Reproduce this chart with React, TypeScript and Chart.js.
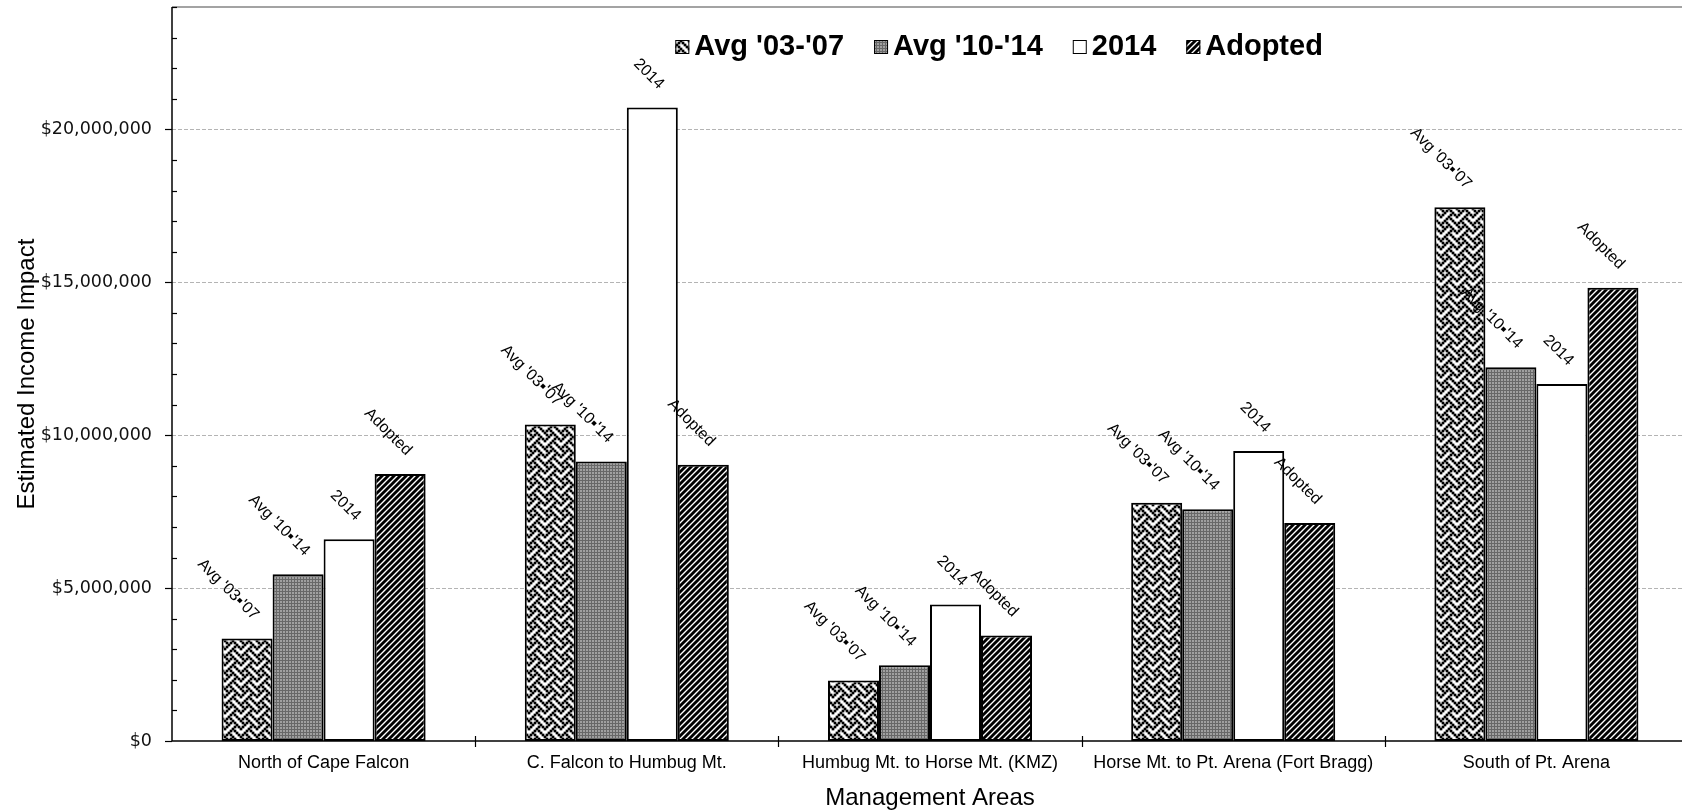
import React, { useEffect, useRef } from "react";
import { Chart, registerables } from "chart.js";

Chart.register(...registerables);

const categories = [
  "North of Cape Falcon",
  "C. Falcon to Humbug Mt.",
  "Humbug Mt. to Horse Mt. (KMZ)",
  "Horse Mt. to Pt. Arena (Fort Bragg)",
  "South of Pt. Arena",
];

const seriesNames = ["Avg '03-'07", "Avg '10-'14", "2014", "Adopted"];
// the labels above the bars print the separator as a small square
const barLabels = ["Avg '03\u25AA'07", "Avg '10\u25AA'14", "2014", "Adopted"];

const avg03to07 = [3350000, 10350000, 1980000, 7790000, 17450000];
const avg10to14 = [5450000, 9140000, 2480000, 7580000, 12220000];
const season2014 = [6600000, 20710000, 4460000, 9480000, 11670000];
const adopted = [8730000, 9030000, 3450000, 7130000, 14820000];

const yMin = 0;
const yMax = 24000000;
const yMinorStep = 1000000;
const yMajorStep = 5000000;

const SANS = '"Liberation Sans", Arial, Helvetica, sans-serif';
const WIDE = '"DejaVu Sans", Verdana, sans-serif';

function makeTile(w: number, h: number, draw: (g: CanvasRenderingContext2D) => void) {
  const c = document.createElement("canvas");
  c.width = w;
  c.height = h;
  const g = c.getContext("2d")!;
  draw(g);
  return c;
}

// woven fill: 8x8 bitmap on a 2px grid, each dot drawn a little fatter
function weaveTile() {
  const rows = [0x88, 0x54, 0x22, 0x45, 0x88, 0x14, 0x22, 0x51];
  const s = 2;
  const n = 8 * s;
  const dot = 2.7;
  return makeTile(n, n, (g) => {
    g.fillStyle = "#ffffff";
    g.fillRect(0, 0, n, n);
    g.fillStyle = "#000000";
    rows.forEach((bits, r) => {
      for (let col = 0; col < 8; col++) {
        if (!(bits & (0x80 >> col))) continue;
        for (const ox of [-n, 0, n]) {
          for (const oy of [-n, 0, n]) {
            g.fillRect(col * s - (dot - s) / 2 + ox, r * s - (dot - s) / 2 + oy, dot, dot);
          }
        }
      }
    });
  });
}

// fine grey grid fill
function gridTile() {
  return makeTile(3, 3, (g) => {
    g.fillStyle = "#a0a0a0";
    g.fillRect(0, 0, 3, 3);
    g.fillStyle = "#686868";
    g.fillRect(0, 0, 3, 1);
    g.fillRect(0, 0, 1, 3);
  });
}

// forward diagonal stripes
function stripeTile() {
  const s = 6;
  return makeTile(s, s, (g) => {
    g.fillStyle = "#ffffff";
    g.fillRect(0, 0, s, s);
    g.strokeStyle = "#000000";
    g.lineWidth = 2.9;
    g.beginPath();
    g.moveTo(-s / 2, s / 2);
    g.lineTo(s / 2, -s / 2);
    g.moveTo(0, s);
    g.lineTo(s, 0);
    g.moveTo(s / 2, s * 1.5);
    g.lineTo(s * 1.5, s / 2);
    g.stroke();
  });
}

function seg(ctx: CanvasRenderingContext2D, x1: number, y1: number, x2: number, y2: number) {
  ctx.beginPath();
  ctx.moveTo(x1, y1);
  ctx.lineTo(x2, y2);
  ctx.stroke();
}

const money = (v: number) => "$" + v.toLocaleString("en-US");

const gridPlugin = {
  id: "dashedGrid",
  beforeDatasetsDraw(chart: any) {
    const { ctx, chartArea: a, scales } = chart;
    const y = scales.y;
    ctx.save();
    ctx.strokeStyle = "#b4b4b4";
    ctx.lineWidth = 1;
    ctx.setLineDash([4, 2]);
    for (let v = yMin + yMajorStep; v <= yMax; v += yMajorStep) {
      const py = Math.round(y.getPixelForValue(v)) + 0.5;
      seg(ctx, a.left, py, a.right, py);
    }
    ctx.restore();
  },
};

const framePlugin = {
  id: "axisFrame",
  afterDatasetsDraw(chart: any) {
    const { ctx, chartArea: a, scales } = chart;
    const x = scales.x;
    const y = scales.y;
    ctx.save();
    ctx.lineWidth = 1.5;
    ctx.strokeStyle = "#858585";
    seg(ctx, a.left, a.top, a.right, a.top);
    ctx.strokeStyle = "#000000";
    seg(ctx, a.left, a.top, a.left, a.bottom);
    seg(ctx, a.left, a.bottom, a.right, a.bottom);
    ctx.lineWidth = 1.2;
    for (let v = yMin; v <= yMax; v += yMinorStep) {
      const py = Math.round(y.getPixelForValue(v)) + 0.5;
      if (v % yMajorStep === 0) seg(ctx, a.left - 7, py, a.left, py);
      else seg(ctx, a.left, py, a.left + 5, py);
    }
    for (let i = 0; i < categories.length - 1; i++) {
      const px = Math.round((x.getPixelForValue(i) + x.getPixelForValue(i + 1)) / 2) + 0.5;
      seg(ctx, px, a.bottom - 5, px, a.bottom + 6);
    }

    // value-axis labels at the major steps
    ctx.font = `17.5px ${WIDE}`;
    ctx.fillStyle = "#111111";
    ctx.textAlign = "right";
    ctx.textBaseline = "middle";
    for (let v = yMin; v <= yMax; v += yMajorStep) {
      ctx.fillText(money(v), a.left - 20, y.getPixelForValue(v));
    }
    ctx.restore();
  },
};

const barLabelPlugin = {
  id: "barLabels",
  afterDatasetsDraw(chart: any) {
    const { ctx } = chart;
    ctx.save();
    ctx.font = `16px ${SANS}`;
    ctx.fillStyle = "#000000";
    ctx.textAlign = "right";
    ctx.textBaseline = "middle";
    chart.data.datasets.forEach((_: any, i: number) => {
      const meta = chart.getDatasetMeta(i);
      meta.data.forEach((bar: any) => {
        ctx.save();
        ctx.translate(bar.x + 9, bar.y - 21);
        ctx.rotate(Math.PI / 4);
        ctx.fillText(barLabels[i], 0, 0);
        ctx.restore();
      });
    });
    ctx.restore();
  },
};

const legendPlugin = {
  id: "insetLegend",
  afterDraw(chart: any) {
    const { ctx, chartArea: a } = chart;
    const box = 14;
    const gap = 5;
    const spacing = 30;
    ctx.save();
    ctx.font = `bold 29px ${SANS}`;
    ctx.textBaseline = "middle";
    ctx.textAlign = "left";
    let cx = a.left + 0.332 * (a.right - a.left);
    const cy = a.top + 40;
    chart.data.datasets.forEach((ds: any) => {
      ctx.fillStyle = ds.backgroundColor;
      ctx.fillRect(cx, cy - box / 2, box, box);
      ctx.strokeStyle = "#000000";
      ctx.lineWidth = 1;
      ctx.strokeRect(cx + 0.5, cy - box / 2 + 0.5, box - 1, box - 1);
      ctx.fillStyle = "#000000";
      const tx = cx + box + gap;
      ctx.fillText(ds.label, tx, cy);
      cx = tx + ctx.measureText(ds.label).width + spacing;
    });
    ctx.restore();
  },
};

export default function App() {
  const canvasRef = useRef<HTMLCanvasElement>(null);

  useEffect(() => {
    const canvas = canvasRef.current!;
    const ctx = canvas.getContext("2d")!;
    const fills: any[] = [
      ctx.createPattern(weaveTile(), "repeat"),
      ctx.createPattern(gridTile(), "repeat"),
      "#ffffff",
      ctx.createPattern(stripeTile(), "repeat"),
    ];
    const seriesValues = [avg03to07, avg10to14, season2014, adopted];

    const chart = new Chart(canvas, {
      type: "bar",
      data: {
        labels: categories,
        datasets: seriesNames.map((name, i) => ({
          label: name,
          data: seriesValues[i],
          backgroundColor: fills[i],
          borderColor: "#000000",
          borderWidth: 2,
          borderSkipped: false,
          categoryPercentage: 0.673,
          barPercentage: 1,
        })),
      },
      options: {
        responsive: true,
        maintainAspectRatio: false,
        animation: false,
        layout: { padding: { top: 7, right: 0, left: 0, bottom: 0 } },
        plugins: {
          legend: { display: false },
          tooltip: { enabled: false },
        },
        scales: {
          x: {
            grid: { display: false, drawTicks: false },
            border: { display: false },
            ticks: {
              font: { family: SANS, size: 18 },
              color: "#000000",
              padding: 11,
              maxRotation: 0,
              minRotation: 0,
              autoSkip: false,
            },
            title: {
              display: true,
              text: "Management Areas",
              font: { family: SANS, size: 24, lineHeight: 1.05 },
              color: "#000000",
              padding: { top: 0, bottom: 1 },
            },
            afterFit: (s: any) => {
              s.height = 71;
            },
          },
          y: {
            min: yMin,
            max: yMax,
            grid: { display: false, drawTicks: false },
            border: { display: false },
            ticks: { display: false, stepSize: yMajorStep },
            title: {
              display: true,
              text: "Estimated Income Impact",
              font: { family: SANS, size: 24 },
              color: "#000000",
              padding: { top: 13, bottom: 0 },
            },
            afterFit: (s: any) => {
              s.width = 172;
            },
          },
        },
      } as any,
      plugins: [gridPlugin, framePlugin, barLabelPlugin, legendPlugin],
    });

    return () => chart.destroy();
  }, []);

  return (
    <div
      style={{
        position: "fixed",
        left: 0,
        top: 0,
        width: "1688px",
        height: "812px",
        background: "#ffffff",
      }}
    >
      <canvas ref={canvasRef} />
    </div>
  );
}
